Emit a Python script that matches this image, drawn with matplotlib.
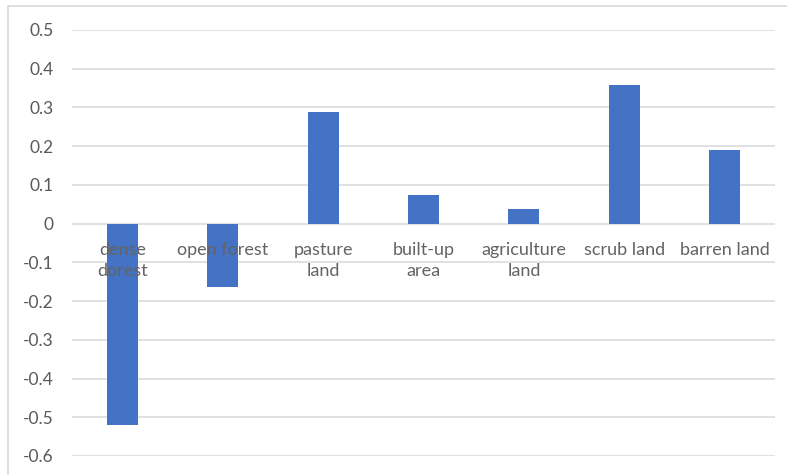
import matplotlib.pyplot as plt
import numpy as np

# 土地利用类型变化
categories = ['dense\ndorest', 'open forest', 'pasture\nland', 'built-up\narea',
              'agriculture\nland', 'scrub land', 'barren land']
values = [-0.52, -0.164, 0.289, 0.075, 0.039, 0.357, 0.191]
yticks = [0.5, 0.4, 0.3, 0.2, 0.1, 0, -0.1, -0.2, -0.3, -0.4, -0.5, -0.6]

plt.rcParams['font.family'] = ['Lato', 'DejaVu Sans']

fig = plt.figure(figsize=(7.87, 4.75), dpi=100)
ax = fig.add_axes([72 / 787, 1 - 456 / 475, (775 - 72) / 787, (456 - 30) / 475])

x = np.arange(len(categories))
ax.bar(x, values, width=0.31, color='#4472c4', zorder=3)

ax.set_xlim(-0.5, len(categories) - 0.5)
ax.set_ylim(-0.6, 0.5)
ax.set_yticks(yticks)
ax.set_yticklabels([('%g' % t) for t in yticks], color='#595959', fontsize=12.5)
ax.set_xticks([])
ax.tick_params(axis='y', length=0, pad=13)
ax.grid(True, axis='y', color='#d9d9d9', linewidth=1.1, zorder=0)
for s in ax.spines.values():
    s.set_visible(False)

# 类别标签放在0轴下方
for xi, lab in zip(x, categories):
    ax.annotate(lab, (xi, 0), xytext=(0, -13), textcoords='offset points',
                ha='center', va='top', fontsize=13, color='#636363',
                linespacing=1.38, zorder=4)

# 外框
frame = plt.Rectangle((8 / 787, -0.1), 1.2, 1 - 6 / 475 + 0.1, transform=fig.transFigure,
                      fill=False, edgecolor='#d9d9d9', linewidth=1.2)
fig.add_artist(frame)

fig.savefig('out.png', dpi=100)
